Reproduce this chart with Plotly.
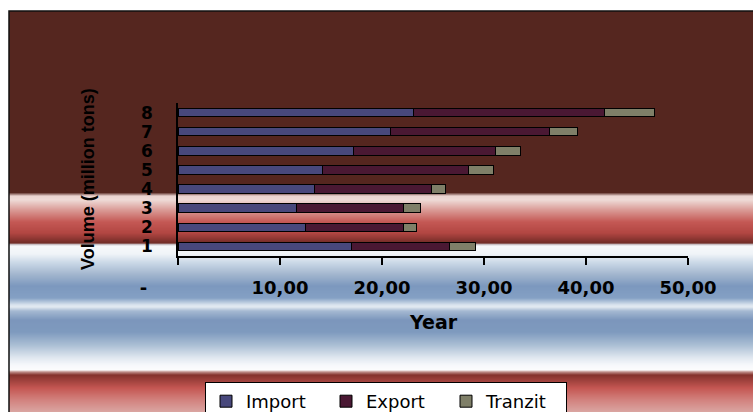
import base64
import struct
import zlib

import plotly.graph_objects as go

# ---- data -------------------------------------------------------------
categories = ["1", "2", "3", "4", "5", "6", "7", "8"]
import_vals = [16.98, 12.46, 11.57, 13.35, 14.16, 17.18, 20.85, 23.08]
export_vals = [9.64, 9.60, 10.49, 11.50, 14.33, 13.96, 15.60, 18.72]
tranzit_vals = [2.55, 1.31, 1.67, 1.34, 2.41, 2.42, 2.72, 4.87]

x_tick_vals = [0, 10, 20, 30, 40, 50]
x_tick_text = ["-" + "\u00a0" * 11, "10,00", "20,00", "30,00", "40,00", "50,00"]

# ---- geometry (pixels) ------------------------------------------------
W, H = 753, 412
ML, MR, MT, MB = 178, 65, 103, 156
PW, PH = W - ML - MR, H - MT - MB


def px_x(px):
    return (px - ML) / PW


def px_y(py):
    return (H - MB - py) / PH


# ---- striped gradient backdrop ---------------------------------------
BROWN = (85, 38, 31)
stops = [
    (11, BROWN), (192.5, BROWN), (196, (234, 212, 208)), (200, (238, 218, 214)),
    (210, (218, 155, 150)), (222, (196, 88, 84)), (233, (178, 70, 66)),
    (239, (140, 54, 50)), (243, (112, 44, 38)), (244.5, (200, 190, 195)),
    (246, (246, 248, 250)), (254, (240, 244, 248)), (262, (205, 218, 232)),
    (275, (160, 180, 205)), (286, (124, 152, 190)), (298, (132, 160, 196)),
    (305, (218, 228, 238)), (307, (226, 233, 241)), (311, (165, 185, 210)),
    (320, (124, 150, 188)), (332, (126, 154, 190)), (345, (170, 190, 212)),
    (358, (225, 232, 240)), (365, (246, 248, 251)), (370, (252, 252, 253)),
    (372, (190, 140, 136)), (375, (132, 50, 45)), (388, (196, 86, 82)),
    (400, (210, 130, 126)), (412, (218, 165, 162)),
]


def color_at(y):
    for (y0, c0), (y1, c1) in zip(stops, stops[1:]):
        if y0 <= y <= y1:
            t = 0 if y1 == y0 else (y - y0) / (y1 - y0)
            return tuple(int(round(a + (b - a) * t)) for a, b in zip(c0, c1))
    return stops[-1][1]


def png_uri(rows, width=4):
    raw = b"".join(b"\x00" + bytes(c) * width for c in rows)

    def chunk(tag, data):
        return (struct.pack(">I", len(data)) + tag + data
                + struct.pack(">I", zlib.crc32(tag + data) & 0xFFFFFFFF))

    ihdr = struct.pack(">IIBBBBB", width, len(rows), 8, 2, 0, 0, 0)
    png = (b"\x89PNG\r\n\x1a\n" + chunk(b"IHDR", ihdr)
           + chunk(b"IDAT", zlib.compress(raw)) + chunk(b"IEND", b""))
    return "data:image/png;base64," + base64.b64encode(png).decode()


BG_TOP, BG_LEFT = 11, 9
rows = [color_at(y + 0.5) for y in range(BG_TOP, H)]
backdrop = png_uri(rows)

# ---- figure -----------------------------------------------------------
bar_line = dict(color="#000000", width=1)
fig = go.Figure()
fig.add_trace(go.Bar(y=categories, x=import_vals, name="Import", orientation="h",
                     marker=dict(color="#48487C", line=bar_line)))
fig.add_trace(go.Bar(y=categories, x=export_vals, name="Export", orientation="h",
                     marker=dict(color="#4A1833", line=bar_line)))
fig.add_trace(go.Bar(y=categories, x=tranzit_vals, name="Tranzit", orientation="h",
                     marker=dict(color="#7F7F68", line=bar_line)))

bold = dict(family="DejaVu Sans", size=18, color="#000000", weight="bold")

fig.update_layout(
    width=W, height=H, autosize=False,
    margin=dict(l=ML, r=MR, t=MT, b=MB, pad=0, autoexpand=False),
    paper_bgcolor="#FFFFFF",
    plot_bgcolor="rgba(0,0,0,0)",
    barmode="stack",
    bargap=0.55,
    showlegend=True,
    legend=dict(
        orientation="h", x=px_x(205), y=px_y(382), xanchor="left", yanchor="top",
        bgcolor="#FFFFFF", bordercolor="#000000", borderwidth=1,
        font=dict(family="DejaVu Sans", size=18, color="#000000"),
        traceorder="normal", entrywidth=75, entrywidthmode="pixels",
    ),
    xaxis=dict(
        range=[0, 50], tickvals=x_tick_vals, ticktext=x_tick_text,
        showgrid=False, zeroline=False,
        showline=True, linecolor="#000000", linewidth=1.5,
        ticks="outside", ticklen=7, tickwidth=1.5, tickcolor="#000000",
        tickfont=bold, ticklabelstandoff=8,
    ),
    yaxis=dict(
        type="category", tickmode="array", tickvals=categories,
        showgrid=False, zeroline=False,
        showline=True, linecolor="#000000", linewidth=1.5,
        ticks="", tickfont=dict(bold, size=17), ticklabelstandoff=20,
    ),
    images=[dict(
        source=backdrop, xref="paper", yref="paper",
        x=px_x(BG_LEFT), y=px_y(BG_TOP),
        sizex=(W - BG_LEFT) / PW, sizey=(H - BG_TOP) / PH,
        xanchor="left", yanchor="top", sizing="stretch", layer="below",
    )],
    shapes=[dict(
        type="rect", xref="paper", yref="paper", layer="below",
        x0=px_x(BG_LEFT), x1=px_x(W + 5), y0=px_y(BG_TOP), y1=px_y(H + 5),
        line=dict(color="#111111", width=1.5), fillcolor="rgba(0,0,0,0)",
    )],
    annotations=[
        dict(text="Volume (million tons)", xref="paper", yref="paper",
             x=px_x(88), y=px_y(179), xanchor="center", yanchor="middle",
             textangle=-90, showarrow=False,
             font=dict(family="Liberation Sans", size=18, color="#000000", weight="bold")),
        dict(text="Year", xref="paper", yref="paper",
             x=px_x(433), y=px_y(322), xanchor="center", yanchor="middle",
             showarrow=False,
             font=dict(family="DejaVu Sans", size=19, color="#000000", weight="bold")),
    ],
)

fig.write_html("out.html", config={"displayModeBar": False})
